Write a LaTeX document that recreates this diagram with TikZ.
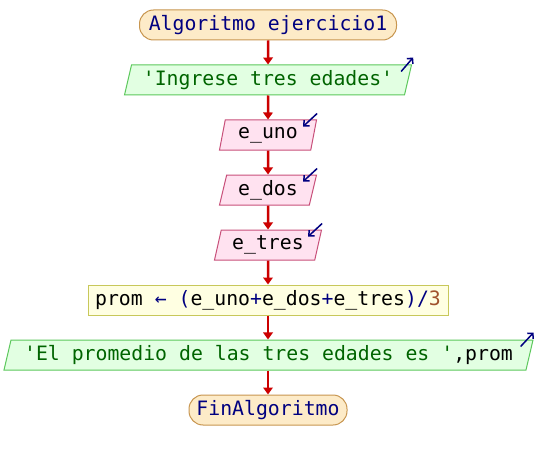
\documentclass[tikz,border=0pt]{standalone}
\usepackage{fontspec}
\newfontfamily\codefont{DejaVu Sans Mono}
\usetikzlibrary{arrows.meta,shapes.geometric,calc}

\definecolor{termfill}{HTML}{FDEBC8}
\definecolor{termdraw}{HTML}{C89650}
\definecolor{outfill}{HTML}{E2FFE2}
\definecolor{outdraw}{HTML}{5CC85C}
\definecolor{infill}{HTML}{FFE2F0}
\definecolor{indraw}{HTML}{C8507A}
\definecolor{asgfill}{HTML}{FFFFE2}
\definecolor{asgdraw}{HTML}{C8C85A}
\definecolor{flowred}{HTML}{CC0000}
\definecolor{kwnavy}{HTML}{000080}
\definecolor{strgreen}{HTML}{006400}
\definecolor{numbrown}{HTML}{A0522D}

\newcommand{\sq}{{\char"27}}

\tikzset{
  base/.style={font=\codefont\fontsize{19.8}{20}\selectfont, minimum height=30pt,
    inner sep=0pt, line width=1pt},
  terminal/.style={base, rectangle, rounded corners=14pt, fill=termfill,
    draw=termdraw, text=kwnavy},
  slanted/.style={base, trapezium, trapezium left angle=70,
    trapezium right angle=110, trapezium stretches body},
  outbox/.style={slanted, fill=outfill, draw=outdraw, text=strgreen},
  inbox/.style={slanted, fill=infill, draw=indraw, text=black},
  assign/.style={base, rectangle, fill=asgfill, draw=asgdraw, text=black},
  flow/.style={draw=flowred, line width=2.5pt, -{Triangle[width=9.5pt,length=7pt]}},
  iomark/.style={draw=kwnavy, line width=1.5pt,
    -{Straight Barb[length=4pt,width=8pt]}},
}

\begin{document}
\begin{tikzpicture}[x=1pt,y=-1pt]
  \fill[white] (0,0) rectangle (536,460);
  \useasboundingbox (0,0) rectangle (536,460);

  % flowchart blocks, all on one vertical axis
  \node[terminal, minimum width=257pt] (start) at (268,25) {Algoritmo ejercicio1};
  \node[outbox, minimum width=287pt] (ask) at (268,80) {\sq Ingrese tres edades\sq};
  \node[inbox, minimum width=97pt] (r1) at (268,135) {e\_uno};
  \node[inbox, minimum width=97pt] (r2) at (268,190) {e\_dos};
  \node[inbox, minimum width=107pt] (r3) at (268,245) {e\_tres};
  \node[assign, minimum width=360pt] (calc) at (268,300)
    {prom \textcolor{kwnavy}{← (}e\_uno\textcolor{kwnavy}{+}e\_dos\textcolor{kwnavy}{+}e\_tres\textcolor{kwnavy}{)/}\textcolor{numbrown}{3}};
  \node[outbox, minimum width=529pt] (show) at (268.5,355)
    {\sq El promedio de las tres edades es \sq\textcolor{black}{,prom}};
  \node[terminal, minimum width=158pt] (stop) at (268,410) {FinAlgoritmo};

  % control flow
  \draw[flow] (start.south) -- (ask.north);
  \draw[flow] (ask.south) -- (r1.north);
  \draw[flow] (r1.south) -- (r2.north);
  \draw[flow] (r2.south) -- (r3.north);
  \draw[flow] (r3.south) -- (calc.north);
  \draw[flow] (calc.south) -- (calc.south |- show.north);
  \draw[flow] (calc.south |- show.south) -- (stop.north);

  % output / input markers
  \draw[iomark] ($(ask.top right corner)+(-11,7)$) -- ($(ask.top right corner)+(1,-7)$);
  \draw[iomark] ($(show.top right corner)+(-13,7)$) -- ($(show.top right corner)+(0,-7)$);
  \foreach \n in {r1,r2,r3}
    \draw[iomark] ($(\n.top right corner)+(0,-6)$) -- ($(\n.top right corner)+(-14,7)$);
\end{tikzpicture}
\end{document}
